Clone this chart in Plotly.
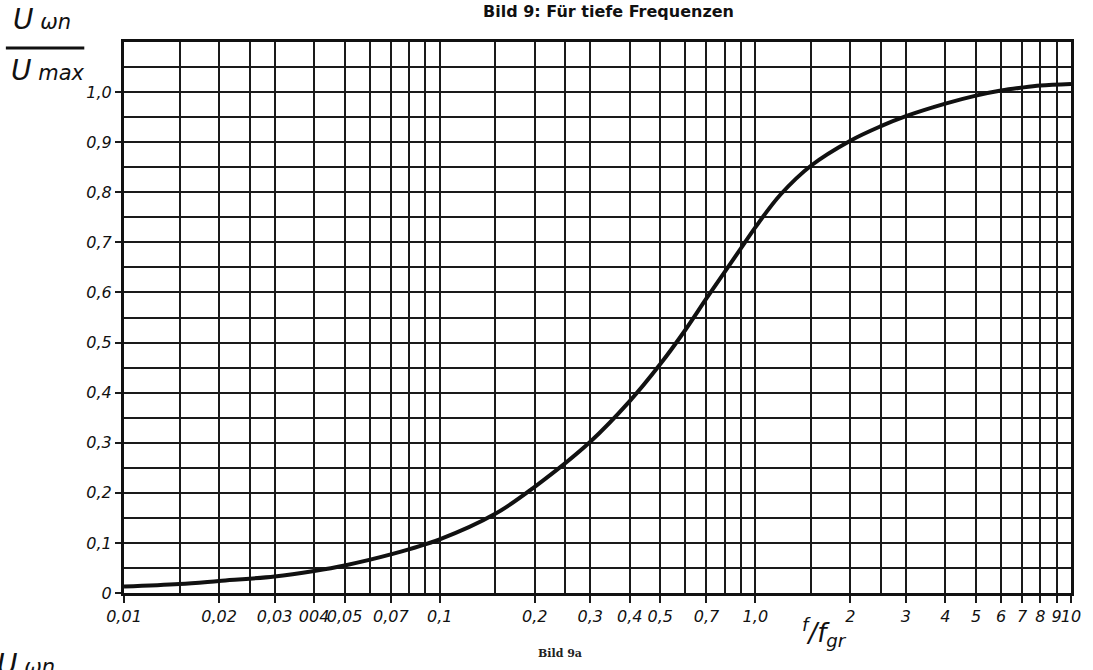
import plotly.graph_objects as go

# ---- data ----
f_ratio = [0.01, 0.015, 0.02, 0.03, 0.04, 0.05, 0.07, 0.1, 0.15, 0.2, 0.3, 0.4,
           0.5, 0.6, 0.7, 0.8, 0.9, 1.0, 1.2, 1.5, 2.0, 2.5, 3.0, 4.0, 5.0, 6.0,
           7.0, 8.0, 10.0]
u_ratio = [0.013, 0.018, 0.024, 0.033, 0.044, 0.055, 0.077, 0.107, 0.158, 0.212,
           0.302, 0.383, 0.457, 0.525, 0.588, 0.641, 0.688, 0.73, 0.795, 0.853,
           0.903, 0.932, 0.952, 0.977, 0.993, 1.003, 1.009, 1.013, 1.016]

x_tick_vals = [0.01, 0.02, 0.03, 0.04, 0.05, 0.07, 0.1, 0.2, 0.3, 0.4, 0.5, 0.7,
               1, 2, 3, 4, 5, 6, 7, 8, 9, 10]
x_tick_text = ["0,01", "0,02", "0,03", "004", "0,05", "0,07", "0,1", "0,2", "0,3",
               "0,4", "0,5", "0,7", "1,0", "2", "3", "4", "5", "6", "7", "8", "9", "10"]
x_grid_extra = [0.015, 0.025, 0.06, 0.08, 0.09, 0.15, 0.25, 0.6, 0.8, 0.9, 1.5, 2.5]

y_tick_vals = [0, 0.1, 0.2, 0.3, 0.4, 0.5, 0.6, 0.7, 0.8, 0.9, 1.0]
y_tick_text = ["0", "0,1", "0,2", "0,3", "0,4", "0,5", "0,6", "0,7", "0,8", "0,9", "1,0"]
y_grid_extra = [0.05, 0.15, 0.25, 0.35, 0.45, 0.55, 0.65, 0.75, 0.85, 0.95, 1.05]

W, H = 1093, 670
L, R, T, B = 124, 15, 42, 77
PW, PH = W - L - R, H - T - B


def px(xp):
    return (xp - L) / PW


def py(yp):
    return (H - B - yp) / PH


fig = go.Figure()
fig.add_trace(go.Scatter(
    x=f_ratio, y=u_ratio, mode="lines",
    line=dict(color="#111111", width=4, shape="spline", smoothing=1.0),
    showlegend=False, hoverinfo="skip"))

grid_col = "#1a1a1a"
hand = "DejaVu Sans"
tickfont = dict(family=hand, size=16, color="#111111", style="italic")

fig.update_xaxes(
    type="log", range=[-2, 1],
    tickmode="array", tickvals=x_tick_vals, ticktext=x_tick_text, tickangle=0,
    tickfont=tickfont, ticks="outside", ticklen=7, tickwidth=2, tickcolor=grid_col,
    showgrid=True, gridcolor=grid_col, gridwidth=2,
    minor=dict(tickmode="array", tickvals=x_grid_extra, showgrid=True,
               gridcolor=grid_col, gridwidth=2, ticks=""),
    showline=True, linecolor="#111111", linewidth=3, mirror=True,
    zeroline=False)

fig.update_yaxes(
    range=[0, 1.1],
    tickmode="array", tickvals=y_tick_vals, ticktext=y_tick_text,
    tickfont=tickfont, ticks="outside", ticklen=6, tickwidth=2, tickcolor=grid_col,
    showgrid=True, gridcolor=grid_col, gridwidth=2,
    minor=dict(tickmode="array", tickvals=y_grid_extra, showgrid=True,
               gridcolor=grid_col, gridwidth=2, ticks=""),
    showline=True, linecolor="#111111", linewidth=3, mirror=True,
    zeroline=False)

annotations = [
    dict(text="<b>Bild 9: Für tiefe Frequenzen</b>", x=px(612), y=py(12),
         font=dict(family="DejaVu Sans", size=16, color="#111111")),
    dict(text="<i>U</i><span style='font-size:21px'><i> ωn</i></span>",
         x=px(10), y=py(38), xanchor="left", yanchor="bottom",
         font=dict(family=hand, size=28, color="#111111")),
    dict(text="<i>U</i><span style='font-size:21px'><i> max</i></span>",
         x=px(8), y=py(52), xanchor="left", yanchor="top",
         font=dict(family=hand, size=28, color="#111111")),
    dict(text="<i><sup>f</sup>/f<sub>gr</sub></i>", x=px(830), y=py(632),
         font=dict(family=hand, size=26, color="#111111")),
    dict(text="<b>Bild 9a</b>", x=px(563), y=py(653),
         font=dict(family="DejaVu Serif", size=11, color="#222222")),
    dict(text="<i>U</i><span style='font-size:21px'><i> ωn</i></span>",
         x=px(-6), y=py(646), xanchor="left", yanchor="top",
         font=dict(family=hand, size=28, color="#111111")),
]
for a in annotations:
    a.update(xref="paper", yref="paper", showarrow=False)
    a.setdefault("xanchor", "center")
    a.setdefault("yanchor", "middle")

fig.update_layout(
    width=W, height=H,
    margin=dict(l=L, r=R, t=T, b=B),
    paper_bgcolor="white", plot_bgcolor="white",
    annotations=annotations,
    shapes=[dict(type="line", xref="paper", yref="paper",
                 x0=px(5), x1=px(84), y0=py(48), y1=py(48),
                 line=dict(color="#111111", width=3))],
)

fig.write_html("out.html")
